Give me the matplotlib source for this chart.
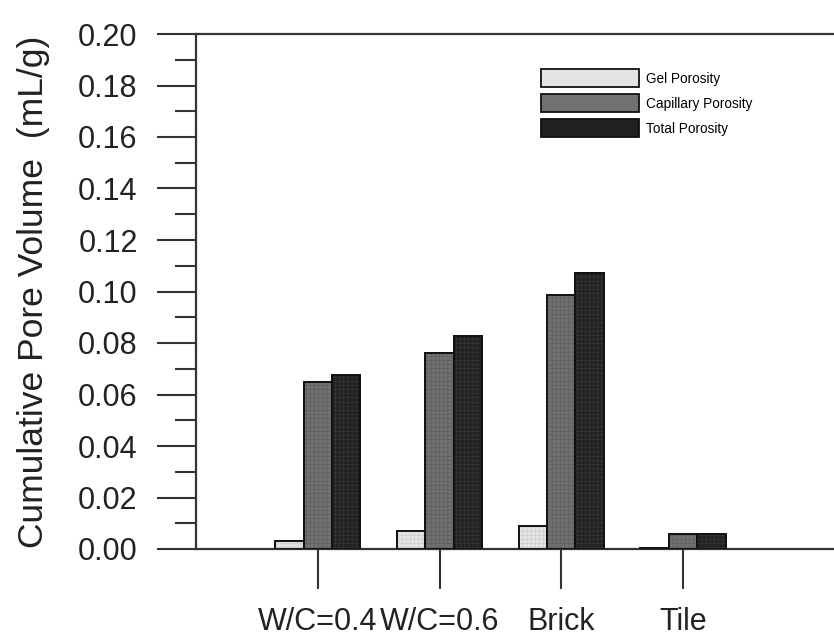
import numpy as np
import matplotlib
matplotlib.use("Agg")
from matplotlib import pyplot as plt

plt.rcParams['font.family'] = ['Liberation Sans', 'DejaVu Sans']
plt.rcParams['hatch.linewidth'] = 0.4

samples = ["W/C=0.4", "W/C=0.6", "Brick", "Tile"]
gel = [0.0032, 0.0069, 0.0088, 0.0003]
capillary = [0.0647, 0.0761, 0.0987, 0.0058]
total = [0.0677, 0.0827, 0.1072, 0.0058]

series = [
    ("Gel Porosity", gel, "#e4e4e4", "#c6c6c6"),
    ("Capillary Porosity", capillary, "#717171", "#5c5c5c"),
    ("Total Porosity", total, "#212121", "#3a3a3a"),
]

fig = plt.figure(figsize=(8.34, 6.42), dpi=100)
ax = fig.add_axes([196 / 834, 1 - 549 / 642, 1 - 196 / 834, (549 - 34) / 642])

x = np.arange(len(samples))
w = 0.233
handles = []
for i, (name, vals, face, hatchc) in enumerate(series):
    pos = x + (i - 1) * w
    b = ax.bar(pos, vals, w, color=face, edgecolor="#111111", linewidth=1.3,
               label=name, zorder=2)
    # fine texture on top of the fill
    ax.bar(pos, vals, w, color="none", edgecolor=hatchc, linewidth=0,
           hatch="++++", zorder=3)
    ax.bar(pos, vals, w, color="none", edgecolor="#111111", linewidth=1.3,
           zorder=4)
    handles.append(b)

ax.set_xlim(-1.0, 4.24)
ax.set_ylim(0, 0.20)
ax.set_yticks(np.arange(0, 0.201, 0.02))
ax.set_yticks(np.arange(0.01, 0.2, 0.02), minor=True)
ax.set_yticklabels([f"{v:.2f}" for v in np.arange(0, 0.201, 0.02)])
ax.set_xticks(x)
ax.set_xticklabels(samples)

ax.tick_params(axis="y", which="major", direction="out", length=28, width=1.5,
               labelsize=22, pad=14, color="#333333", labelcolor="#222222")
ax.tick_params(axis="y", which="minor", direction="out", length=15, width=1.5,
               color="#333333")
ax.tick_params(axis="x", which="major", direction="out", length=29, width=1.5,
               labelsize=22, pad=13, color="#333333", labelcolor="#222222")

for s in ["left", "top", "bottom"]:
    ax.spines[s].set_linewidth(1.6)
    ax.spines[s].set_color("#333333")
ax.spines["right"].set_visible(False)

ax.set_ylabel("Cumulative Pore Volume  (mL/g)", fontsize=25.5, labelpad=20,
              color="#222222")

fig.legend(handles=handles, loc="upper left", bbox_to_anchor=(536 / 834, 1 - 64 / 642),
           frameon=False, fontsize=9.8, handlelength=7.2, handleheight=1.6,
           labelspacing=0.55, handletextpad=0.45, borderaxespad=0)

fig.savefig("out.png", dpi=100)
